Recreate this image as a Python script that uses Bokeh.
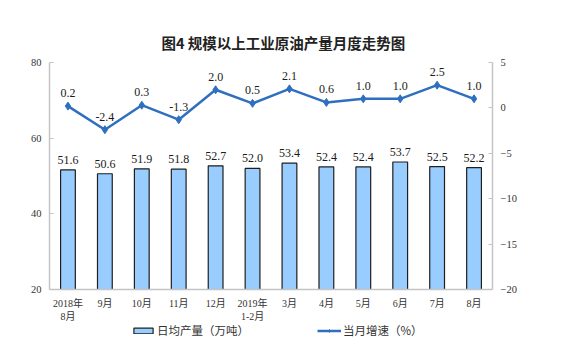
from bokeh.plotting import figure
from bokeh.models import (ColumnDataSource, FactorRange, Range1d, LinearAxis, LabelSet,
                          Legend, LegendItem, FixedTicker)
from bokeh.embed import file_html
from bokeh.resources import INLINE

# ---- data ----
months = ["2018年\n8月", "9月", "10月", "11月", "12月", "2019年\n1-2月",
          "3月", "4月", "5月", "6月", "7月", "8月"]
daily_output = [51.6, 50.6, 51.9, 51.8, 52.7, 52.0, 53.4, 52.4, 52.4, 53.7, 52.5, 52.2]
growth = [0.2, -2.4, 0.3, -1.3, 2.0, 0.5, 2.1, 0.6, 1.0, 1.0, 2.5, 1.0]
left_ticks = [20, 40, 60, 80]
right_ticks = [-20, -15, -10, -5, 0, 5]

title_text = "图4  规模以上工业原油产量月度走势图"
bar_name = "日均产量（万吨）"
line_name = "当月增速（%）"

src = ColumnDataSource(dict(
    m=months, d=daily_output, g=growth,
    dl=[f"{v:.1f}" for v in daily_output],
    gl=[f"{v:.1f}" for v in growth],
))

# layout: axes area 227px tall; frame extended downward to host labels + legend
axes_h = 227
frame_h = 282
extra = (frame_h - axes_h) / axes_h
l_lo, l_hi = left_ticks[0], left_ticks[-1]
r_lo, r_hi = right_ticks[0], right_ticks[-1]

p = figure(x_range=FactorRange(*months),
           y_range=Range1d(l_lo - (l_hi - l_lo) * extra, l_hi),
           frame_width=443, frame_height=frame_h, output_backend="svg", toolbar_location=None,
           min_border_left=49, min_border_right=60, min_border_top=62, min_border_bottom=0,
           background_fill_color="white", border_fill_color="white")
p.extra_y_ranges = {"pct": Range1d(r_lo - (r_hi - r_lo) * extra, r_hi)}
p.outline_line_color = None
p.grid.visible = False

p.title.text = title_text
p.title.align = "left"
p.title.offset = 112
p.title.text_font = "Noto Sans CJK SC"
p.title.text_font_size = "14.5px"
p.title.text_font_style = "bold"
p.title.text_color = "#222222"
p.title.standoff = 19

axis_color = "#C4C4C4"
tick_font = "Liberation Serif, Noto Sans CJK SC"

def style_axis(ax):
    ax.axis_line_color = axis_color
    ax.axis_line_width = 1.5
    ax.major_tick_line_color = axis_color
    ax.major_tick_in = 4
    ax.major_tick_out = 0
    ax.minor_tick_line_color = None
    ax.major_label_text_font = tick_font
    ax.major_label_text_font_size = "10.5px"
    ax.major_label_text_color = "#333333"

style_axis(p.yaxis[0])
p.yaxis[0].ticker = FixedTicker(ticks=left_ticks)
p.yaxis[0].bounds = (l_lo, l_hi)
p.yaxis[0].major_label_standoff = 8

ax_r = LinearAxis(y_range_name="pct", ticker=FixedTicker(ticks=right_ticks),
                  bounds=(r_lo, r_hi))
style_axis(ax_r)
ax_r.major_label_standoff = 8
p.add_layout(ax_r, "right")

style_axis(p.xaxis[0])
p.xaxis[0].fixed_location = l_lo
p.xaxis[0].major_tick_line_color = None
p.xaxis[0].major_label_text_font_size = "10px"
p.xaxis[0].major_label_standoff = 8

bars = p.vbar(x="m", top="d", bottom=l_lo, width=0.4, source=src,
              fill_color="#99CCFF", line_color="#1E1E1E", line_width=1.2)

line = p.line(x="m", y="g", source=src, y_range_name="pct",
              line_color="#2F6FBF", line_width=2.5)
pts = p.scatter(x="m", y="g", source=src, y_range_name="pct", marker="diamond",
                size=8, fill_color="#2F6FBF", line_color="#2F6FBF")

p.add_layout(LabelSet(x="m", y="d", text="dl", source=src, y_offset=10,
                      text_align="center", text_baseline="middle",
                      text_font="Liberation Sans", text_font_size="12px",
                      text_color="#1A1A1A"))
p.add_layout(LabelSet(x="m", y="g", text="gl", source=src, y_range_name="pct",
                      y_offset=13, text_align="center", text_baseline="middle",
                      text_font="Liberation Sans", text_font_size="12px",
                      text_color="#1A1A1A"))

legend = Legend(items=[LegendItem(label=bar_name, renderers=[bars]),
                       LegendItem(label=line_name, renderers=[line, pts])],
                orientation="horizontal", location=(82, 6),
                padding=0, margin=0, spacing=68,
                glyph_width=24, glyph_height=7, label_standoff=2,
                label_text_font="Noto Sans CJK SC", label_text_font_size="11.5px",
                label_text_color="#333333",
                border_line_color=None, background_fill_alpha=0)
p.add_layout(legend)

open("out.html", "w").write(file_html(p, INLINE))
